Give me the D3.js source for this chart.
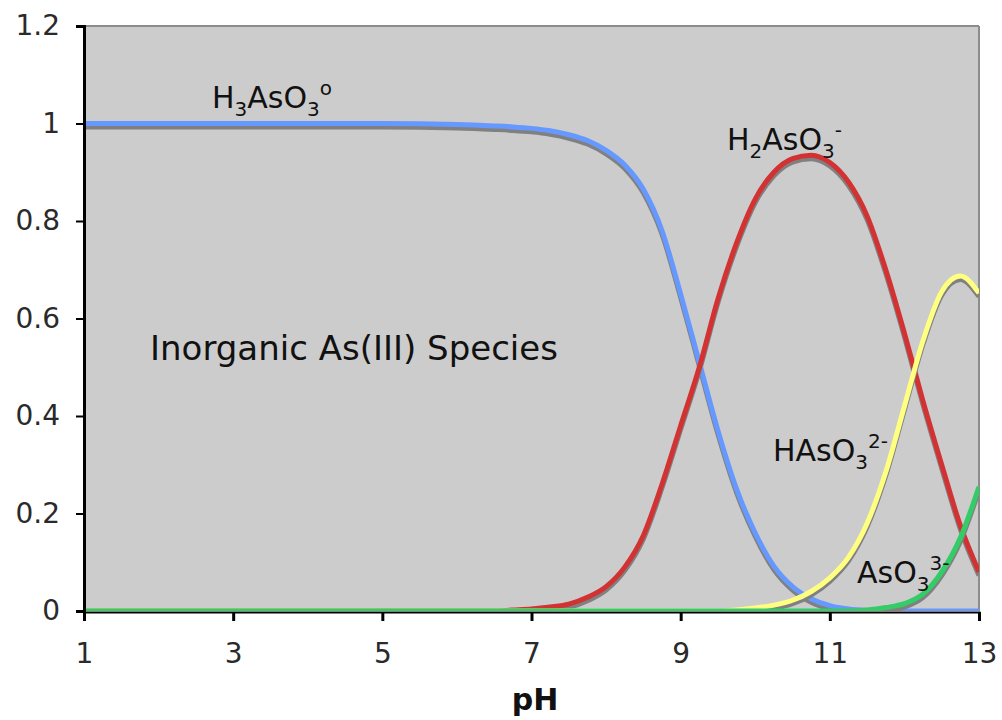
<!DOCTYPE html>
<html>
<head>
<meta charset="utf-8">
<script src="https://cdn.jsdelivr.net/npm/d3@7/dist/d3.min.js"></script>
<style>
  html, body { margin: 0; padding: 0; background: #fff; }
  svg { display: block; font-family: "DejaVu Sans", Verdana, sans-serif; }
</style>
</head>
<body>
<svg id="chart" width="1002" height="720"></svg>
<script>
// ---- data ----
const pH = [1, 2, 3, 4, 5, 6, 6.5, 6.75, 7, 7.25, 7.5, 7.75, 8, 8.25, 8.5, 8.75, 9, 9.25, 9.5, 9.75, 10, 10.25, 10.5, 10.75, 11, 11.25, 11.5, 11.75, 12, 12.25, 12.5, 12.75, 13];
const H3AsO3 = [1, 1, 1, 1, 1, 0.998, 0.995, 0.993, 0.99, 0.985, 0.977, 0.965, 0.945, 0.915, 0.865, 0.78, 0.65, 0.51, 0.37, 0.25, 0.16, 0.092, 0.05, 0.025, 0.011, 0.004, 0.001, 0, 0, 0, 0, 0, 0];
const H2AsO3 = [0, 0, 0, 0, 0, 0, 0, 0.002, 0.004, 0.008, 0.014, 0.028, 0.05, 0.09, 0.155, 0.26, 0.38, 0.50, 0.64, 0.755, 0.845, 0.90, 0.928, 0.935, 0.92, 0.88, 0.81, 0.70, 0.57, 0.43, 0.30, 0.175, 0.08];
const HAsO3 = [0, 0, 0, 0, 0, 0, 0, 0, 0, 0, 0, 0, 0, 0, 0, 0, 0, 0, 0, 0.002, 0.006, 0.012, 0.022, 0.04, 0.068, 0.11, 0.18, 0.285, 0.42, 0.555, 0.655, 0.687, 0.652];
const AsO3 = [0, 0, 0, 0, 0, 0, 0, 0, 0, 0, 0, 0, 0, 0, 0, 0, 0, 0, 0, 0, 0, 0, 0, 0, 0, 0, 0.002, 0.007, 0.015, 0.035, 0.08, 0.15, 0.255];
const xTicks = [1, 3, 5, 7, 9, 11, 13];
const yTicks = [0, 0.2, 0.4, 0.6, 0.8, 1, 1.2];
const yTickLabels = ["0", "0.2", "0.4", "0.6", "0.8", "1", "1.2"];
const seriesNames = ["H3AsO3", "H2AsO3", "HAsO3", "AsO3"];
const seriesValues = [H3AsO3, H2AsO3, HAsO3, AsO3];
const seriesColors = ["#6699ff", "#d23232", "#ffff80", "#33cc66"];

// ---- layout ----
const L = 84, R = 979, T = 26, B = 611;
const svg = d3.select("#chart");
const x = d3.scaleLinear().domain([1, 13]).range([L, R]);
const y = d3.scaleLinear().domain([0, 1.2]).range([B, T]);

// plot background
svg.append("rect").attr("x", L).attr("y", T).attr("width", R - L).attr("height", B - T)
  .attr("fill", "#cccccc");
// top & right border
svg.append("line").attr("x1", L).attr("x2", R).attr("y1", T).attr("y2", T)
  .attr("stroke", "#8c8c8c").attr("stroke-width", 2);
svg.append("line").attr("x1", R).attr("x2", R).attr("y1", T).attr("y2", B)
  .attr("stroke", "#8c8c8c").attr("stroke-width", 2);

svg.append("clipPath").attr("id", "clip").append("rect")
  .attr("x", L).attr("y", T).attr("width", R - L).attr("height", B - T);

const line = d3.line().x(d => x(d[0])).y(d => y(d[1])).curve(d3.curveMonotoneX);
const g = svg.append("g").attr("clip-path", "url(#clip)");
seriesValues.forEach((vals, i) => {
  const pts = pH.map((p, k) => [p, vals[k]]);
  g.append("path").attr("d", line(pts)).attr("fill", "none")
    .attr("stroke", "#808080").attr("stroke-width", 5)
    .attr("stroke-linejoin", "round")
    .attr("transform", "translate(0,3.5)");
  g.append("path").attr("d", line(pts)).attr("fill", "none")
    .attr("stroke", seriesColors[i]).attr("stroke-width", 5)
    .attr("stroke-linejoin", "round").attr("class", "series " + seriesNames[i]);
});

// axes
const yAxis = d3.axisLeft(y).tickValues(yTicks).tickSize(8)
  .tickFormat((d, i) => yTickLabels[i]).tickPadding(16);
const ya = svg.append("g").attr("transform", `translate(${L},0)`).call(yAxis);
ya.select(".domain").attr("stroke", "#000").attr("stroke-width", 3);
ya.selectAll(".tick line").attr("stroke", "#000").attr("stroke-width", 2);
ya.selectAll("text").attr("font-size", 28).attr("fill", "#2a2a2a")
  .attr("font-family", "DejaVu Sans");

const xAxis = d3.axisBottom(x).tickValues(xTicks).tickSize(9).tickPadding(22)
  .tickFormat(d3.format("d"));
const xa = svg.append("g").attr("transform", `translate(0,${B + 1})`).call(xAxis);
xa.select(".domain").attr("stroke", "#000").attr("stroke-width", 2);
xa.selectAll(".tick line").attr("stroke", "#000").attr("stroke-width", 3);
xa.selectAll("text").attr("font-size", 28).attr("fill", "#2a2a2a")
  .attr("font-family", "DejaVu Sans");

// axis title
svg.append("text").attr("x", 535).attr("y", 710).attr("text-anchor", "middle")
  .attr("font-size", 30).attr("font-weight", "bold").attr("fill", "#111").text("pH");

// labels with sub/superscripts
function chem(xp, yp, parts) {
  const t = svg.append("text").attr("x", xp).attr("y", yp).attr("fill", "#111").attr("font-size", 30);
  let cur = 0;
  parts.forEach(p => {
    const target = p[1] === "sub" ? 8 : p[1] === "sup" ? -13 : 0;
    t.append("tspan").attr("dy", target - cur)
      .attr("font-size", p[1] === "n" ? 30 : 20).text(p[0]);
    cur = target;
  });
  return t;
}
chem(212, 108, [["H", "n"], ["3", "sub"], ["AsO", "n"], ["3", "sub"], ["o", "sup"]]);
chem(727, 150, [["H", "n"], ["2", "sub"], ["AsO", "n"], ["3", "sub"], ["-", "sup"]]);
chem(773, 461, [["HAsO", "n"], ["3", "sub"], ["2-", "sup"]]);
chem(857, 583, [["AsO", "n"], ["3", "sub"], ["3-", "sup"]]);

svg.append("text").attr("x", 150).attr("y", 360).attr("font-size", 34).attr("fill", "#111")
  .text("Inorganic As(III) Species");
</script>
</body>
</html>
